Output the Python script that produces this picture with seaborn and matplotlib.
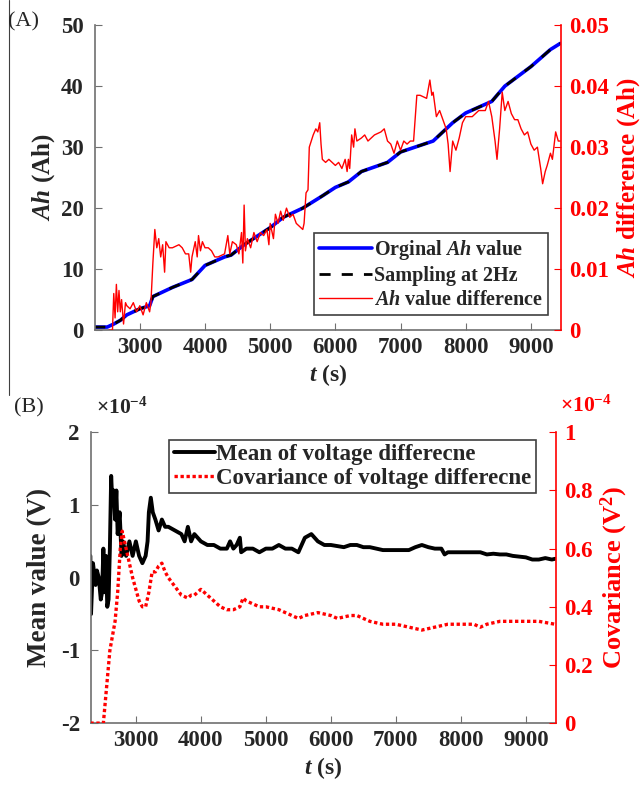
import numpy as np
import pandas as pd
import matplotlib
matplotlib.use("Agg")
import matplotlib.pyplot as plt
from matplotlib.lines import Line2D
import seaborn as sns

# ---- panel (A) data ----
t_ah = [2300, 2500, 2600, 2700, 2800, 3000, 3150, 3200, 3500, 3800, 4000, 4300,
        4400, 4600, 5000, 5200, 5500, 5800, 6000, 6200, 6400, 6800, 7000, 7500,
        7800, 8000, 8400, 8600, 9000, 9300, 9450]
ah_val = [0.5, 0.5, 1.0, 1.6, 2.5, 3.5, 4.0, 5.5, 7.0, 8.3, 10.6, 12.0,
          12.3, 14.0, 16.8, 18.5, 20.0, 22.0, 23.4, 24.3, 26.0, 27.5, 29.2, 31.0,
          34.0, 35.6, 37.5, 40.0, 43.2, 46.0, 47.0]

t_diff = [2530, 2560, 2580, 2600, 2620, 2640, 2660, 2680, 2700, 2720, 2750, 2780,
          2800, 2850, 2900, 2950, 3000, 3050, 3100, 3150, 3170, 3200, 3230, 3260,
          3290, 3320, 3350, 3380, 3400, 3450, 3500, 3600, 3650, 3700, 3750, 3780,
          3800, 3850, 3880, 3900, 3930, 3960, 4000, 4050, 4100, 4150, 4200, 4300,
          4350, 4380, 4420, 4480, 4520, 4560, 4580, 4600, 4620, 4650, 4700, 4750,
          4800, 4850, 4900, 4950, 4980, 5000, 5050, 5080, 5120, 5160, 5200, 5250,
          5300, 5350, 5400, 5450, 5500, 5520, 5550, 5580, 5600, 5630, 5660, 5700,
          5730, 5760, 5780, 5800, 5850, 5900, 6000, 6050, 6100, 6150, 6180, 6200,
          6220, 6250, 6280, 6300, 6330, 6400, 6450, 6500, 6550, 6600, 6700, 6750,
          6800, 6850, 6900, 6950, 7000, 7050, 7100, 7150, 7200, 7250, 7300, 7400,
          7450, 7480, 7500, 7550, 7600, 7650, 7700, 7730, 7760, 7800, 7850, 7900,
          7950, 8000, 8100, 8200, 8300, 8350, 8400, 8450, 8480, 8520, 8560, 8600,
          8650, 8700, 8750, 8800, 8850, 8900, 8950, 9000, 9050, 9100, 9150, 9180,
          9220, 9250, 9300, 9330, 9380, 9420, 9450]
ah_diff = [0.0, 0.0, 0.0, 0.006, 0.002, 0.0075, 0.003, 0.0065, 0.003, 0.005, 0.001, 0.0045,
           0.004, 0.0035, 0.0045, 0.003, 0.004, 0.0025, 0.0045, 0.003, 0.0045, 0.011, 0.0165, 0.0135,
           0.015, 0.012, 0.014, 0.0095, 0.0145, 0.0135, 0.0135, 0.014, 0.0135, 0.0125, 0.0125, 0.0095,
           0.012, 0.0145, 0.012, 0.0155, 0.013, 0.0145, 0.0135, 0.0135, 0.013, 0.012, 0.012, 0.0125,
           0.0155, 0.0125, 0.0145, 0.014, 0.0125, 0.016, 0.011, 0.0205, 0.013, 0.015, 0.0135, 0.016,
           0.0145, 0.016, 0.0155, 0.0165, 0.014, 0.0175, 0.015, 0.019, 0.0175, 0.0195, 0.018, 0.02,
           0.0185, 0.019, 0.0175, 0.017, 0.0165, 0.0175, 0.0225, 0.023, 0.030, 0.031, 0.032, 0.033,
           0.0325, 0.034, 0.0305, 0.028, 0.0275, 0.028, 0.027, 0.0275, 0.0265, 0.028, 0.026, 0.028,
           0.0265, 0.032, 0.030, 0.033, 0.031, 0.0315, 0.032, 0.031, 0.0315, 0.032, 0.0325, 0.033,
           0.031, 0.0305, 0.029, 0.031, 0.0295, 0.031, 0.0305, 0.031, 0.031, 0.0385, 0.0385, 0.038,
           0.041, 0.0385, 0.039, 0.035, 0.036, 0.0345, 0.033, 0.0305, 0.026, 0.031, 0.0295, 0.0315,
           0.034, 0.035, 0.035, 0.036, 0.036, 0.0375, 0.035, 0.031, 0.028, 0.033, 0.039, 0.036,
           0.0375, 0.0355, 0.0345, 0.0345, 0.033, 0.032, 0.0325, 0.0305, 0.0295, 0.030, 0.0265, 0.024,
           0.026, 0.027, 0.029, 0.028, 0.0325, 0.031, 0.031]

# ---- panel (B) data (units of 1e-4) ----
t_mean = [2300, 2310, 2340, 2380, 2400, 2430, 2460, 2480, 2500, 2520, 2540, 2560,
          2580, 2600, 2620, 2640, 2660, 2680, 2700, 2720, 2750, 2780, 2800, 2850,
          2900, 2950, 3000, 3050, 3100, 3150, 3180, 3200, 3230, 3260, 3300, 3350,
          3400, 3450, 3500, 3600, 3700, 3750, 3800, 3850, 3900, 3950, 4000, 4100,
          4200, 4300, 4400, 4450, 4500, 4550, 4600, 4620, 4700, 4800, 4900, 5000,
          5100, 5200, 5300, 5400, 5500, 5550, 5600, 5700, 5750, 5800, 5900, 6000,
          6200, 6300, 6400, 6500, 6600, 6800, 7000, 7200, 7300, 7400, 7500, 7600,
          7700, 7750, 7800, 8000, 8200, 8300, 8400, 8500, 8600, 8700, 8800, 9000,
          9100, 9200, 9300, 9400, 9450]
mean_diff = [0.3, -0.5, 0.2, -0.1, 0.1, 0.0, -0.3, -0.2, 0.4, -0.2, 0.3, -0.4,
             -0.3, 0.4, 1.4, 1.0, 1.2, 0.8, 1.2, 0.6, 0.9, 0.3, 0.5, 0.3,
             0.5, 0.3, 0.5, 0.3, 0.2, 0.3, 0.5, 0.9, 1.1, 0.9, 0.8, 0.65,
             0.8, 0.7, 0.7, 0.65, 0.6, 0.5, 0.7, 0.5, 0.6, 0.55, 0.5, 0.45,
             0.45, 0.4, 0.4, 0.5, 0.4, 0.45, 0.55, 0.35, 0.4, 0.4, 0.35, 0.4,
             0.4, 0.45, 0.4, 0.4, 0.35, 0.45, 0.55, 0.6, 0.55, 0.5, 0.45, 0.45,
             0.42, 0.45, 0.45, 0.42, 0.42, 0.38, 0.38, 0.38, 0.42, 0.45, 0.42, 0.4,
             0.4, 0.32, 0.35, 0.35, 0.35, 0.35, 0.32, 0.33, 0.32, 0.32, 0.3, 0.28,
             0.25, 0.25, 0.27, 0.25, 0.26]

t_cov = [2300, 2500, 2520, 2560, 2600, 2640, 2680, 2720, 2760, 2790, 2850, 2900,
         2950, 3000, 3050, 3100, 3150, 3200, 3250, 3300, 3350, 3400, 3450, 3500,
         3600, 3700, 3800, 3850, 3900, 3950, 4000, 4100, 4200, 4300, 4400, 4500,
         4600, 4650, 4700, 4800, 4900, 5000, 5200, 5400, 5500, 5600, 5800, 6000,
         6100, 6300, 6400, 6600, 6800, 7000, 7200, 7400, 7600, 7800, 8000, 8200,
         8300, 8400, 8600, 8800, 9000, 9200, 9450]
cov_diff = [0.0, 0.0, 0.05, 0.15, 0.25, 0.3, 0.35, 0.45, 0.6, 0.66, 0.6, 0.55,
            0.5, 0.46, 0.42, 0.4, 0.4, 0.45, 0.52, 0.52, 0.54, 0.55, 0.52, 0.5,
            0.47, 0.44, 0.43, 0.44, 0.44, 0.45, 0.46, 0.44, 0.42, 0.4, 0.39, 0.39,
            0.4, 0.43, 0.42, 0.41, 0.4, 0.4, 0.39, 0.37, 0.36, 0.37, 0.38, 0.37,
            0.36, 0.37, 0.37, 0.35, 0.34, 0.34, 0.33, 0.32, 0.33, 0.34, 0.34, 0.34,
            0.33, 0.34, 0.35, 0.35, 0.35, 0.35, 0.34]

xticks = [3000, 4000, 5000, 6000, 7000, 8000, 9000]

sns.set_style("ticks")
plt.rcParams["font.family"] = ["Liberation Serif", "DejaVu Serif"]
plt.rcParams["font.weight"] = "bold"
plt.rcParams["axes.unicode_minus"] = False
plt.rcParams["mathtext.fontset"] = "custom"
plt.rcParams["mathtext.rm"] = "Liberation Serif:bold"
plt.rcParams["mathtext.it"] = "Liberation Serif:italic:bold"
plt.rcParams["mathtext.bf"] = "Liberation Serif:bold"

fig = plt.figure(figsize=(6.41, 7.86), dpi=100)
axA = fig.add_axes([0.148, 0.580, 0.727, 0.388])
axB = fig.add_axes([0.142, 0.080, 0.725, 0.370])

grey = "#707070"
red = "#ff0000"


def style_axes(ax, ax2):
    for a in (ax, ax2):
        a.spines["top"].set_visible(False)
    ax.spines["right"].set_visible(False)
    ax2.spines["left"].set_visible(False)
    ax2.spines["bottom"].set_visible(False)
    ax.spines["left"].set_color(grey)
    ax.spines["bottom"].set_color(grey)
    ax2.spines["right"].set_color(red)
    for s in ("left", "bottom"):
        ax.spines[s].set_linewidth(1.2)
    ax2.spines["right"].set_linewidth(1.2)
    ax.tick_params(direction="in", length=5, color=grey, labelsize=16.5, pad=5)
    ax.tick_params(axis="y", pad=8)
    ax2.tick_params(axis="y", direction="in", length=5, color=red, labelcolor=red,
                    labelsize=16.5, pad=6)
    ax.set_xticks(xticks)
    ax.set_xlim(2310, 9460)
    for lab in ax.get_xticklabels() + ax.get_yticklabels() + ax2.get_yticklabels():
        lab.set_fontweight("bold")


# ---- (A) ----
dfA = pd.DataFrame({"t": t_ah, "ah": ah_val})
dfD = pd.DataFrame({"t": t_diff, "d": ah_diff})
axA2 = axA.twinx()
sns.lineplot(data=dfA, x="t", y="ah", ax=axA, color="#0000ff", lw=2.6,
             estimator=None, sort=False, label="Orginal $Ah$ value")
sns.lineplot(data=dfA, x="t", y="ah", ax=axA, color="black", lw=2.0,
             linestyle=(0, (4, 4)), estimator=None, sort=False, label="Sampling at 2Hz")
sns.lineplot(data=dfD, x="t", y="d", ax=axA2, color=red, lw=1.0,
             estimator=None, sort=False, legend=False)
axA.set_ylim(0, 50)
axA2.set_ylim(0, 0.05)
axA.set_yticks([0, 10, 20, 30, 40, 50])
axA2.set_yticks([0, 0.01, 0.02, 0.03, 0.04, 0.05])
axA2.set_yticklabels(["0", "0.01", "0.02", "0.03", "0.04", "0.05"])
style_axes(axA, axA2)
axA.set_xlabel("$t$ (s)", fontsize=17, fontweight="bold", labelpad=3)
axA.set_ylabel("$Ah$ (Ah)", fontsize=18, fontweight="bold", labelpad=3)
axA2.set_ylabel("$Ah$ difference (Ah)", fontsize=18, fontweight="bold", color=red, labelpad=4)
hA, lA = axA.get_legend_handles_labels()
hA.append(Line2D([], [], color=red, lw=1.0))
lA.append("$Ah$ value difference")
axA.legend(hA, lA, loc="lower right", bbox_to_anchor=(0.972, 0.05), fontsize=14.5,
           frameon=True, fancybox=False, edgecolor="#404040", framealpha=1,
           handlelength=2.6, handletextpad=0.1, borderpad=0.25, labelspacing=0.2,
           borderaxespad=0)
axA.legend_.get_frame().set_linewidth(1.2)

# ---- (B) ----
dfM = pd.DataFrame({"t": t_mean, "m": mean_diff})
dfC = pd.DataFrame({"t": t_cov, "c": cov_diff})
axB2 = axB.twinx()
sns.lineplot(data=dfM, x="t", y="m", ax=axB, color="black", lw=2.8,
             estimator=None, sort=False, label="Mean of voltage differecne")
sns.lineplot(data=dfC, x="t", y="c", ax=axB2, color=red, lw=2.4,
             linestyle=(0, (1, 0.8)), estimator=None, sort=False, legend=False)
axB.set_ylim(-2, 2)
axB2.set_ylim(0, 1)
axB.set_yticks([-2, -1, 0, 1, 2])
axB.set_yticklabels(["-2", "-1", "0", "1", "2"])
axB2.set_yticks([0, 0.2, 0.4, 0.6, 0.8, 1])
axB2.set_yticklabels(["0", "0.2", "0.4", "0.6", "0.8", "1"])
style_axes(axB, axB2)
axB.set_xlabel("$t$ (s)", fontsize=17, fontweight="bold", labelpad=3)
axB.set_ylabel("Mean value (V)", fontsize=19.5, fontweight="bold", labelpad=6)
axB2.set_ylabel("Covariance (V$^2$)", fontsize=19, fontweight="bold", color=red, labelpad=4)
hB, lB = axB.get_legend_handles_labels()
hB.append(Line2D([], [], color=red, lw=2.4, linestyle=(0, (1, 0.8))))
lB.append("Covariance of voltage differecne")
axB.legend(hB, lB, loc="upper right", bbox_to_anchor=(0.957, 0.975), fontsize=16.5,
           frameon=True, fancybox=False, edgecolor="#404040", framealpha=1,
           handlelength=1.8, handletextpad=0.05, borderpad=0.2, labelspacing=0.1,
           borderaxespad=0)
axB.legend_.get_frame().set_linewidth(1.2)

# offset labels and panel letters
fig.text(0.150, 0.467, r"$\times$10$^{\mathregular{-4}}$", fontsize=15.5,
         va="bottom", ha="left")
fig.text(0.873, 0.470, r"$\times$10$^{\mathregular{-4}}$", fontsize=15.5, color=red,
         va="bottom", ha="left")
fig.text(0.012, 0.972, "(A)", fontsize=16, fontweight="normal", va="center")
fig.text(0.022, 0.481, "(B)", fontsize=16, fontweight="normal", va="center")
fig.add_artist(Line2D([0.014, 0.014], [1.0, 0.497], color="#404040", lw=0.8))

fig.savefig("out.png", dpi=100)
